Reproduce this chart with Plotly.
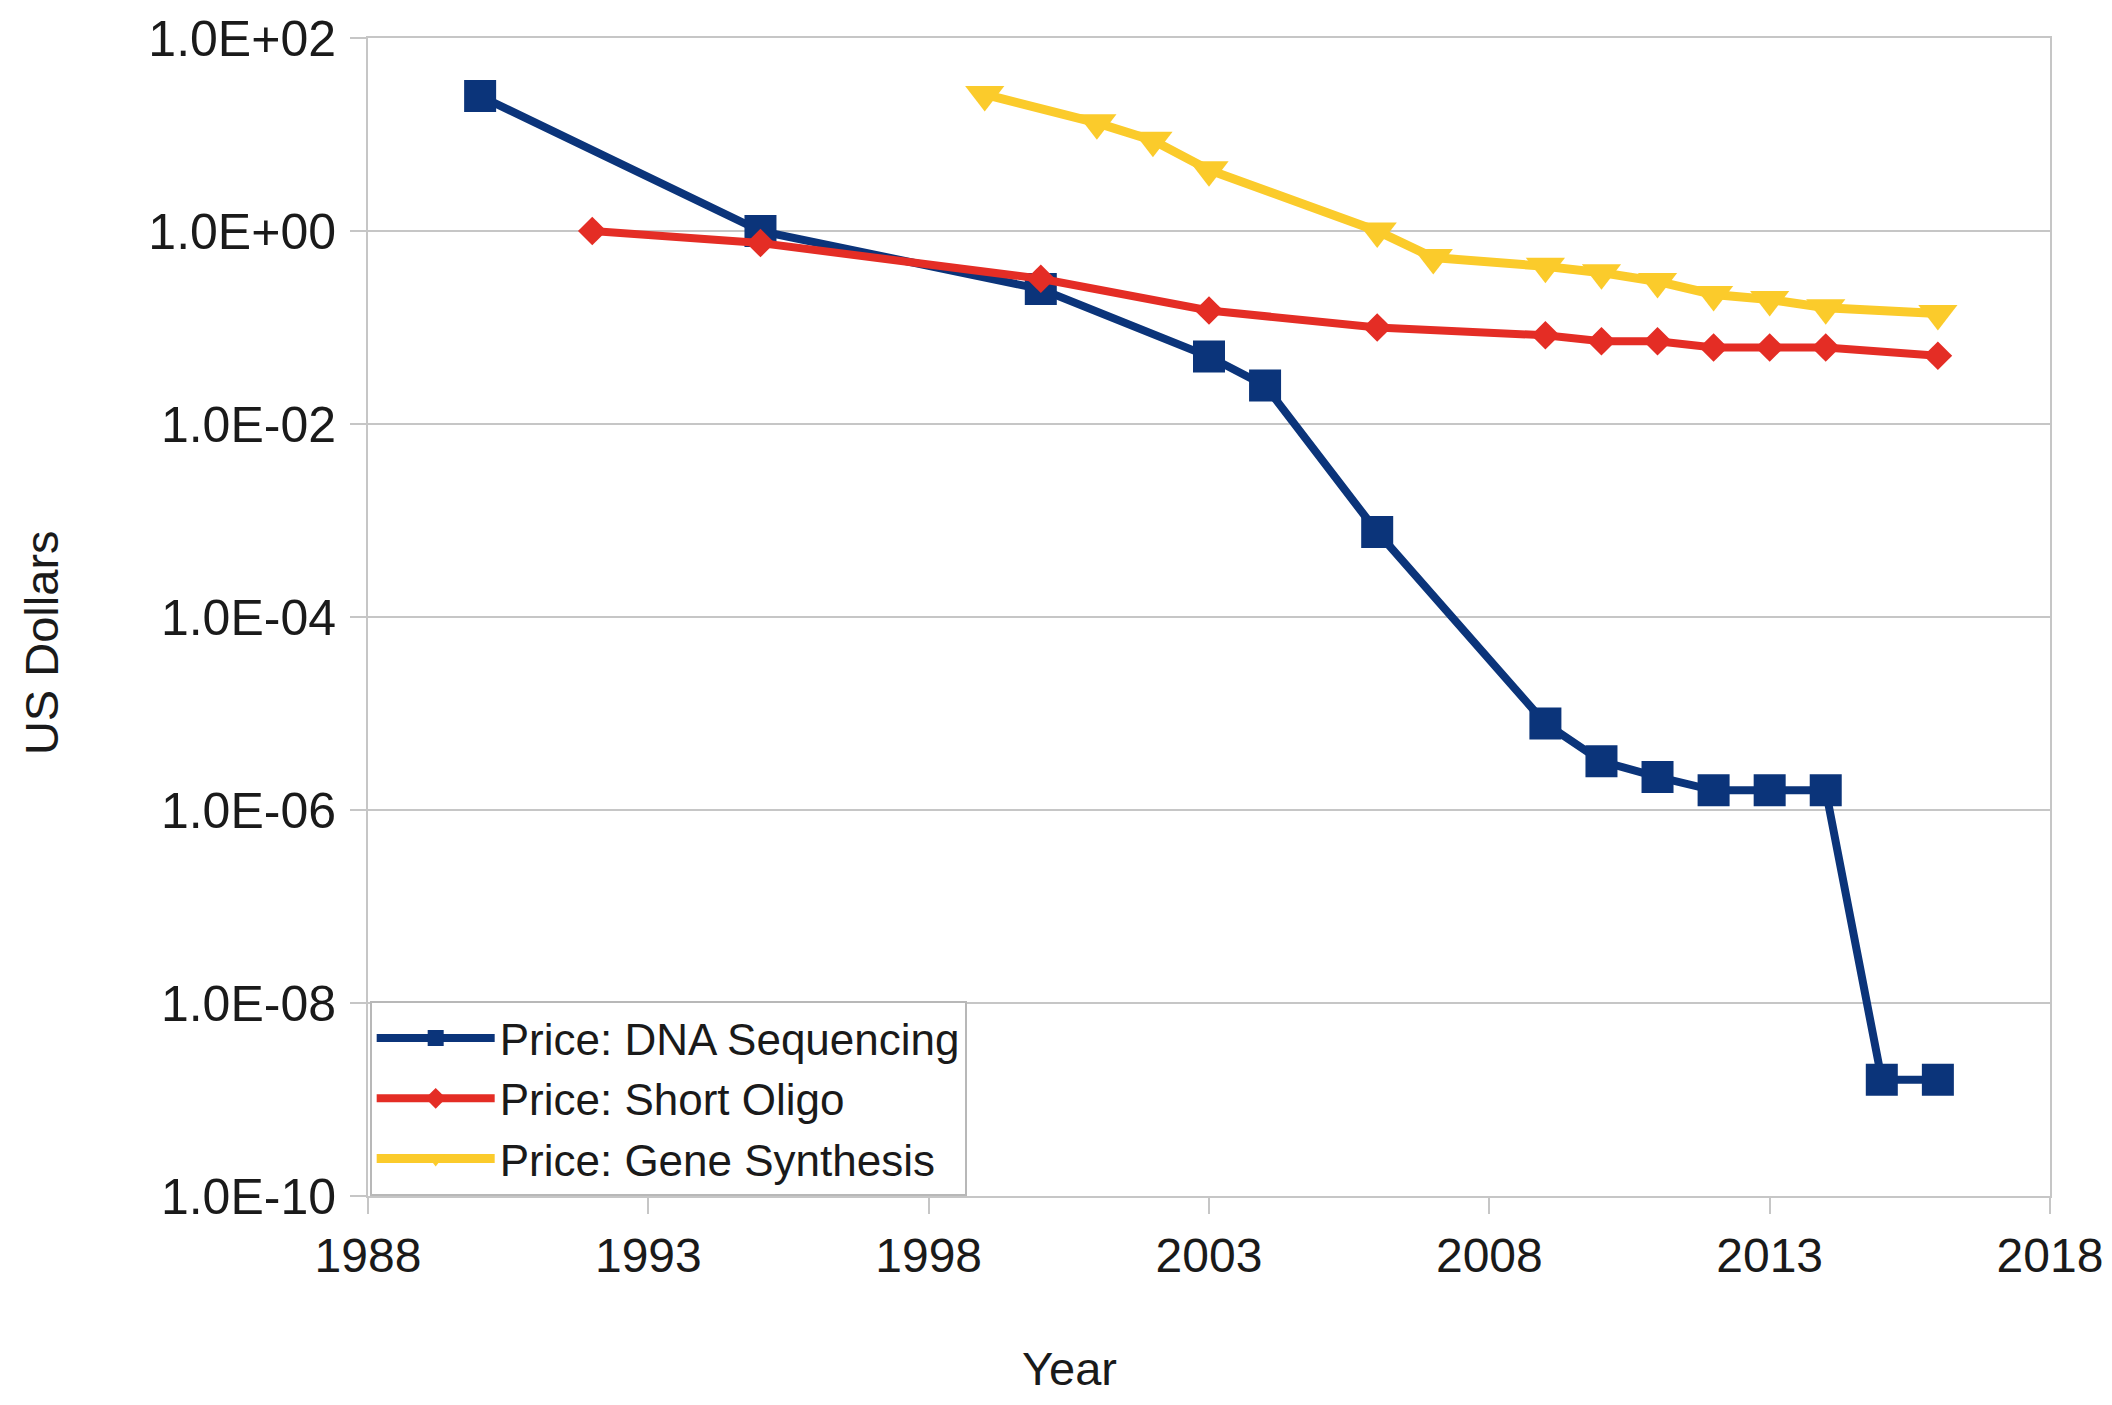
import plotly.graph_objects as go

# ---- data ----
dna_years = [1990, 1995, 2000, 2003, 2004, 2006, 2009, 2010, 2011, 2012, 2013, 2014, 2015, 2016]
dna_price = [25, 1.0, 0.25, 0.05, 0.025, 7.6e-4, 7.9e-6, 3.2e-6, 2.2e-6, 1.6e-6, 1.6e-6, 1.6e-6, 1.6e-9, 1.6e-9]

oligo_years = [1992, 1995, 2000, 2003, 2006, 2009, 2010, 2011, 2012, 2013, 2014, 2016]
oligo_price = [1.0, 0.75, 0.32, 0.15, 0.10, 0.083, 0.072, 0.072, 0.062, 0.062, 0.062, 0.051]

gene_years = [1999, 2001, 2002, 2003, 2006, 2007, 2009, 2010, 2011, 2012, 2013, 2014, 2016]
gene_price = [26, 13.2, 8.7, 4.3, 1.0, 0.53, 0.43, 0.37, 0.30, 0.22, 0.195, 0.16, 0.14]

y_tickvals = [1e-10, 1e-8, 1e-6, 1e-4, 1e-2, 1e0, 1e2]
y_ticktext = ["1.0E-10", "1.0E-08", "1.0E-06", "1.0E-04", "1.0E-02", "1.0E+00", "1.0E+02"]
x_tickvals = [1988, 1993, 1998, 2003, 2008, 2013, 2018]

FONT = "Liberation Sans, Arial, sans-serif"
GRID = "#c6c6c6"
TXT = "#1a1a1a"

fig = go.Figure()
fig.add_trace(go.Scatter(
    x=dna_years, y=dna_price, mode="lines+markers", name="Price: DNA Sequencing",
    line=dict(color="#0b347a", width=8),
    marker=dict(symbol="square", size=32, color="#0b347a"),
))
fig.add_trace(go.Scatter(
    x=oligo_years, y=oligo_price, mode="lines+markers", name="Price: Short Oligo",
    line=dict(color="#e42d25", width=8),
    marker=dict(symbol="diamond", size=22, color="#e42d25"),
))
fig.add_trace(go.Scatter(
    x=gene_years, y=gene_price, mode="lines+markers", name="Price: Gene Synthesis",
    line=dict(color="#fbcb2b", width=9),
    marker=dict(symbol="triangle-down", size=34, color="#fbcb2b"),
))

fig.update_layout(
    width=2096, height=1389,
    margin=dict(l=360, r=54, t=30, b=201, autoexpand=False),
    paper_bgcolor="white", plot_bgcolor="white",
    font=dict(family=FONT, color=TXT),
    showlegend=True,
    legend=dict(
        x=0.001, y=0.0, xanchor="left", yanchor="bottom",
        font=dict(size=44, family=FONT, color=TXT),
        bordercolor="#b8b8b8", borderwidth=2, bgcolor="white",
        itemwidth=118, tracegroupgap=0,
    ),
    annotations=[
        dict(text="Year", x=0.4168, y=-0.1735, xref="paper", yref="paper",
             showarrow=False, font=dict(size=47, family=FONT, color=TXT),
             xanchor="center", yanchor="bottom"),
        dict(text="US Dollars", x=-0.1944, y=0.4775, xref="paper", yref="paper",
             showarrow=False, textangle=-90, font=dict(size=47, family=FONT, color=TXT),
             xanchor="center", yanchor="middle"),
    ],
)

fig.update_xaxes(
    range=[1988, 2018], tickvals=x_tickvals, ticktext=[str(v) for v in x_tickvals],
    showgrid=False, zeroline=False, automargin=False,
    showline=True, linecolor=GRID, linewidth=2, mirror=True,
    ticks="outside", ticklen=16, tickwidth=2, tickcolor=GRID,
    ticklabeloverflow="allow",
    tickfont=dict(size=48, family=FONT, color=TXT),
)
fig.update_yaxes(
    type="log", range=[-10, 2], tickvals=y_tickvals, ticktext=y_ticktext,
    showgrid=True, gridcolor=GRID, gridwidth=2, zeroline=False, automargin=False,
    showline=True, linecolor=GRID, linewidth=2, mirror=True,
    ticks="outside", ticklen=16, tickwidth=2, tickcolor=GRID,
    ticklabelstandoff=4, ticklabeloverflow="allow",
    tickfont=dict(size=50, family=FONT, color=TXT),
)

fig.write_html("out.html")
